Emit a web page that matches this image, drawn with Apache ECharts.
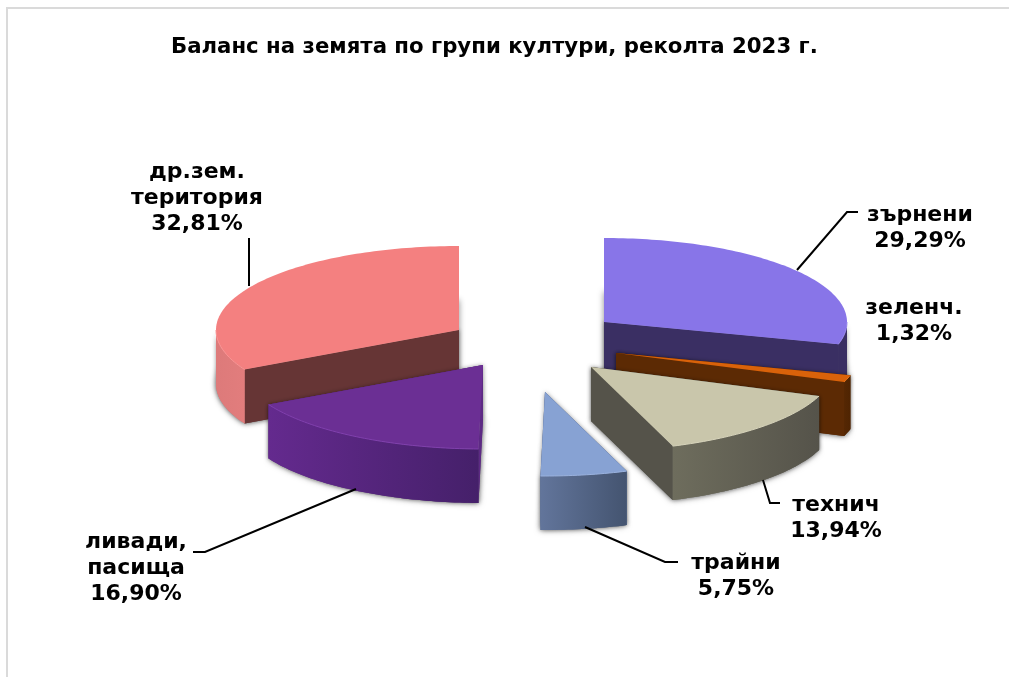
<!DOCTYPE html>
<html><head><meta charset="utf-8">
<style>html,body{margin:0;padding:0;background:#fff}#c{width:1009px;height:677px}</style>
<script src="https://cdn.jsdelivr.net/npm/echarts@6/dist/echarts.min.js"></script>
</head><body><div id="c"></div>
<script>
const titleText = 'Баланс на земята по групи култури, реколта 2023 г.';
const categories = ['зърнени', 'зеленч.', 'технич', 'трайни', 'ливади,\nпасища', 'др.зем.\nтеритория'];
const percents = [29.29, 1.32, 13.94, 5.75, 16.90, 32.81];

// layout (not data): apex of each exploded slice, ellipse, extrusion
const apex = [[604,322],[616,353],[591,367],[545,392],[483,365],[459,330]];
const RX = 243, RY = 84, DEPTH = 54;
const labelPos = [[920,228],[914,321],[836,518],[736,576],[136,568],[197,198]];
const leaders = [
  [[797,270],[847,212],[858,212]],
  null,
  [[763,480],[770,503],[780,503]],
  [[585,527],[665,562],[678,562]],
  [[356,489],[205,552],[193,552]],
  [[249,286],[249,238]]
];
const looks = [
  {top:'#8875e8', rim:'#9a8af0', cut:'#3a2f63', w1:'#3a2f63', w2:'#3a2f63'},
  {top:'#d9620a', rim:'#e8751c', cut:'#5c2a04', w1:'#552703', w2:'#4f2402'},
  {top:'#c9c6ab', rim:'#d6d3ba', cut:'#55534a', w1:'#6e6d5d', w2:'#55534a'},
  {top:'#87a2d3', rim:'#9ab2de', cut:'#5f7298', w1:'#62759b', w2:'#445470'},
  {top:'#6b2f94', rim:'#8040ad', cut:'#5d2a84', w1:'#642a8e', w2:'#45206a'},
  {top:'#f48080', rim:'#fb9494', cut:'#663535', w1:'#dd7a7a', w2:'#e27d7d'}
];
const drawOrder = [5, 0, 1, 2, 4, 3];

const total = percents.reduce((a,b)=>a+b,0);
const bounds = []; let acc = 0;
percents.forEach(p => { bounds.push([acc/total*Math.PI*2, (acc+p)/total*Math.PI*2]); acc += p; });

function pt(i, th, dz){ const c = apex[i]; return [c[0]+RX*Math.sin(th), c[1]-RY*Math.cos(th)+(dz||0)]; }
function arc(i, a, b, dz){ const n = Math.max(2, Math.ceil((b-a)/0.02)); const out=[]; for(let k=0;k<=n;k++) out.push(pt(i, a+(b-a)*k/n, dz)); return out; }
function hgrad(c1,c2){ return {type:'linear',x:0,y:0,x2:1,y2:0,colorStops:[{offset:0,color:c1},{offset:1,color:c2}]}; }
const shadow = {shadowBlur:4, shadowColor:'rgba(0,0,0,0.4)'};

function renderSlice(params){
  const i = drawOrder[params.dataIndex];
  const [a,b] = bounds[i];
  const c = apex[i], L = looks[i], kids = [];
  const base = [c[0], c[1]];
  // soft drop shadow of the solid
  kids.push({type:'polygon',shape:{points:[[c[0],c[1]+DEPTH]].concat(arc(i,a,b,DEPTH))},
    style:{fill:'#b9b9b9',shadowBlur:6,shadowColor:'rgba(0,0,0,0.45)'}});
  const faces = [];
  [a,b].forEach(t=>{
    faces.push({pts:[base,pt(i,t),pt(i,t,DEPTH),[c[0],c[1]+DEPTH]],fill:L.cut});
  });
  const wa = Math.max(a, Math.PI/2), wb = Math.min(b, Math.PI*1.5);
  if (wb > wa){
    faces.push({pts:arc(i,wa,wb,0).concat(arc(i,wa,wb,DEPTH).reverse()),fill:hgrad(L.w1,L.w2)});
  }
  // shadows first, then clean faces on top so no seam shows between them
  faces.forEach(f=>kids.push({type:'polygon',shape:{points:f.pts},style:Object.assign({fill:f.fill},shadow)}));
  faces.forEach(f=>kids.push({type:'polygon',shape:{points:f.pts},style:{fill:f.fill}}));
  // top surface and rim highlight
  kids.push({type:'polygon',shape:{points:[base].concat(arc(i,a,b,0))},style:{fill:L.top}});
  if (wb > wa) kids.push({type:'polyline',shape:{points:arc(i,wa,wb,0)},style:{fill:null,stroke:L.rim,lineWidth:1}});
  return {type:'group',children:kids};
}
function renderNote(params){
  const i = params.dataIndex, kids = [];
  if (leaders[i]) kids.push({type:'polyline',shape:{points:leaders[i]},style:{fill:null,stroke:'#000',lineWidth:2}});
  const text = categories[i] + '\n' + percents[i].toFixed(2).replace('.',',') + '%';
  kids.push({type:'text',x:labelPos[i][0],y:labelPos[i][1],style:{text,align:'center',verticalAlign:'middle',
    fontFamily:'"DejaVu Sans"',fontWeight:'bold',fontSize:22,lineHeight:26,fill:'#000'}});
  return {type:'group',children:kids};
}
const chart = echarts.init(document.getElementById('c'),null,{renderer:'canvas'});
chart.setOption({
  animation:false,
  backgroundColor:'#fff',
  title:{text:titleText,left:171,top:37,padding:0,textStyle:{fontFamily:'"DejaVu Sans"',fontWeight:'bold',fontSize:21.25,color:'#000'}},
  graphic:[{type:'polyline',shape:{points:[[7,677],[7,8],[1009,8]]},style:{fill:null,stroke:'#dadada',lineWidth:2}}],
  series:[
    {type:'custom',coordinateSystem:'none',data:drawOrder.map(i=>percents[i]),renderItem:renderSlice,silent:true},
    {type:'custom',coordinateSystem:'none',data:percents,renderItem:renderNote,silent:true}
  ]
});
</script></body></html>
